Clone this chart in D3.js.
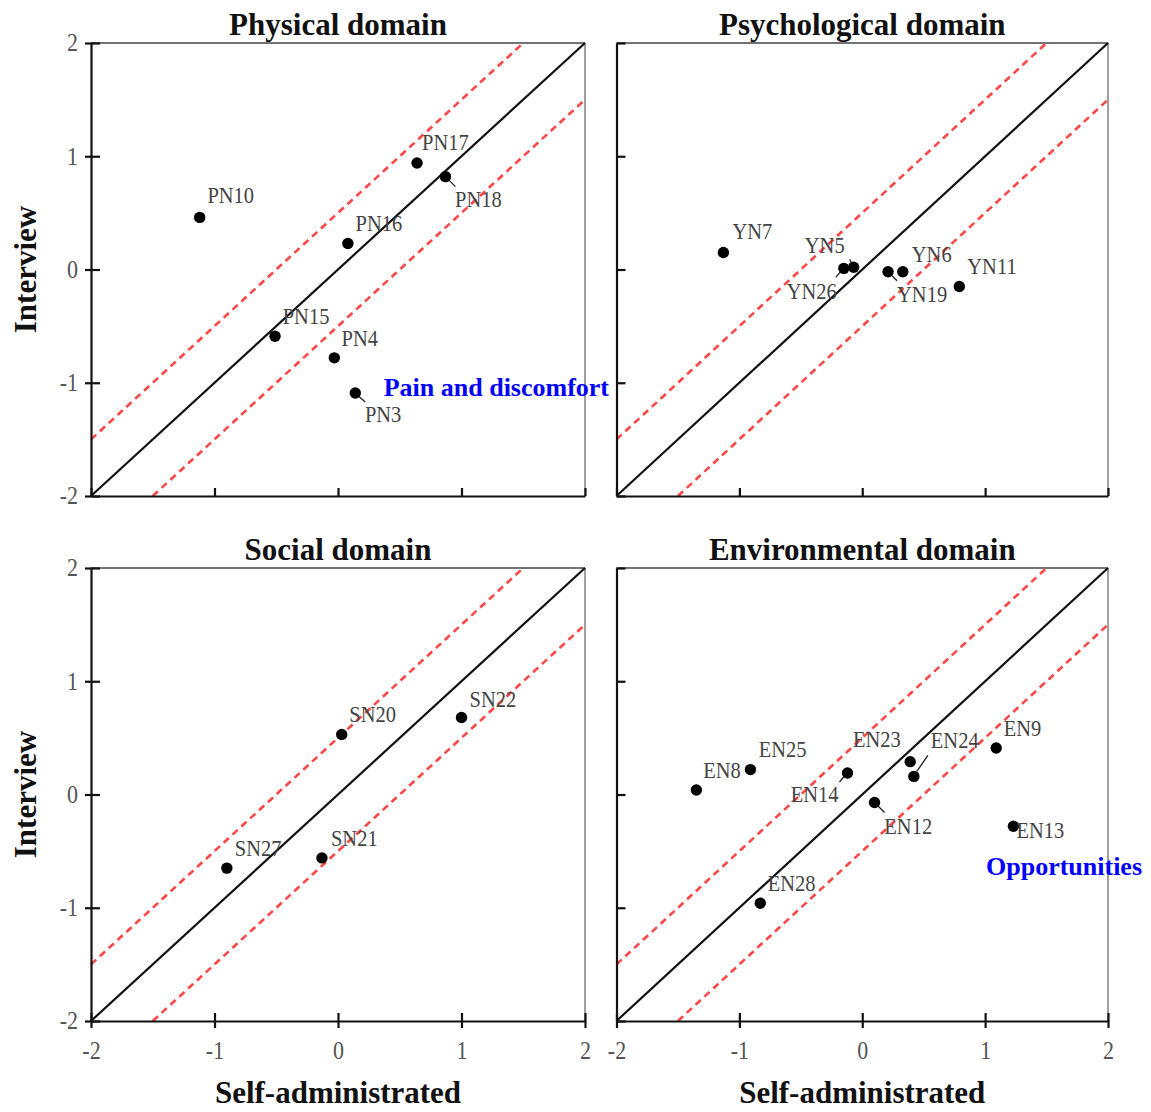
<!DOCTYPE html>
<html><head><meta charset="utf-8">
<script src="https://cdn.jsdelivr.net/npm/d3@7/dist/d3.min.js"></script>
<style>body{margin:0;background:#fff}</style>
</head><body>
<svg id="c" width="1151" height="1112"></svg>
<script>
// ---------------- DATA ----------------
const domainTitles = ["Physical domain", "Psychological domain", "Social domain", "Environmental domain"];

const physNames = ["PN10", "PN17", "PN18", "PN16", "PN15", "PN4", "PN3"];
const physSelf = [-1.12, 0.64, 0.87, 0.08, -0.51, -0.03, 0.14];
const physInterview = [0.46, 0.94, 0.82, 0.23, -0.59, -0.78, -1.09];

const psychNames = ["YN7", "YN5", "YN26", "YN19", "YN6", "YN11"];
const psychSelf = [-1.13, -0.07, -0.15, 0.21, 0.33, 0.79];
const psychInterview = [0.15, 0.02, 0.01, -0.02, -0.02, -0.15];

const socNames = ["SN20", "SN22", "SN27", "SN21"];
const socSelf = [0.03, 1.0, -0.9, -0.13];
const socInterview = [0.53, 0.68, -0.65, -0.56];

const envNames = ["EN8", "EN25", "EN14", "EN23", "EN24", "EN12", "EN9", "EN13", "EN28"];
const envSelf = [-1.35, -0.91, -0.12, 0.39, 0.42, 0.10, 1.09, 1.23, -0.83];
const envInterview = [0.04, 0.22, 0.19, 0.29, 0.16, -0.07, 0.41, -0.28, -0.96];

const tickValues = [-2, -1, 0, 1, 2];
const tickLabels = ["-2", "-1", "0", "1", "2"];
const axisRange = [-2, 2];
const agreementBand = 0.5;
const xAxisTitle = "Self-administrated";
const yAxisTitle = "Interview";
const annotationTexts = ["Pain and discomfort", "Opportunities"];

// ---------------- LAYOUT / STYLE ----------------
const FONT = "'Liberation Serif','Times New Roman',serif";
const panels = [
  {x0: 91, x1: 585, y0: 43, y1: 496, names: physNames, sx: physSelf, sy: physInterview, left: true, bottom: false},
  {x0: 616.5, x1: 1108, y0: 43, y1: 496, names: psychNames, sx: psychSelf, sy: psychInterview, left: false, bottom: false},
  {x0: 91, x1: 585, y0: 568, y1: 1021, names: socNames, sx: socSelf, sy: socInterview, left: true, bottom: true},
  {x0: 616.5, x1: 1108, y0: 568, y1: 1021, names: envNames, sx: envSelf, sy: envInterview, left: false, bottom: true}
];
// label offsets in pixels: [dx, dy(baseline), anchor, leader]
const labelLayout = {
  PN10: [7.7, -14], PN17: [5, -12.6], PN18: [9.6, 30, "start", [3, 3, 10, 10]], PN16: [7.7, -12.6],
  PN15: [7.7, -12.3], PN4: [7.3, -12], PN3: [9.6, 29, "start", [3, 3, 10, 9]],
  YN7: [9, -14], YN5: [-9, -14, "end", [-2, -4, -4, -8]], YN26: [-7, 31, "end", [-3, 3, -8, 9]],
  YN19: [9, 30, "start", [3, 3, 9, 9]], YN6: [9, -10], YN11: [8, -12],
  SN20: [7.6, -12.4], SN22: [8, -10.4], SN27: [8, -12], SN21: [9, -12],
  EN8: [6.8, -12], EN25: [8.3, -12.7], EN14: [-9, 29, "end", [-3, 3, -8, 9]], EN23: [-9.4, -15, "end"],
  EN24: [17, -28.7, "start", [3, -5, 14, -21]], EN12: [9.8, 31.7, "start", [3, 3, 10, 10]],
  EN9: [7.5, -12], EN13: [3, 11.7], EN28: [7.5, -12]
};
const annotationLayout = [{panel: 0, x: 0.37, y: -1.12}, {panel: 3, x: 1.007, y: -0.71}];
const STRETCH = 1.12; // glyphs in the reference are slightly taller than wide

const svg = d3.select("#c");

panels.forEach((p, i) => {
  const x = d3.scaleLinear().domain(axisRange).range([p.x0, p.x1]);
  const y = d3.scaleLinear().domain(axisRange).range([p.y1, p.y0]);
  p.xs = x; p.ys = y;
  const g = svg.append("g");

  // title
  g.append("text").attr("transform", `translate(${(p.x0 + p.x1) / 2},${p.y0 - 8}) scale(1,1.05)`)
    .attr("text-anchor", "middle").attr("font-family", FONT).attr("font-weight", "bold")
    .attr("font-size", 31).attr("fill", "#111").text(domainTitles[i]);

  // top and right frame
  g.append("line").attr("x1", p.x0).attr("x2", p.x1).attr("y1", p.y0).attr("y2", p.y0)
    .attr("stroke", "#444").attr("stroke-width", 1.6);
  g.append("line").attr("x1", p.x1).attr("x2", p.x1).attr("y1", p.y0).attr("y2", p.y1)
    .attr("stroke", "#888").attr("stroke-width", 1.6);

  // reference lines
  const line = d3.line().x(d => x(d[0])).y(d => y(d[1]));
  g.append("path").attr("d", line([[-2, -2], [2, 2]])).attr("stroke", "#111").attr("stroke-width", 2.2).attr("fill", "none");
  g.append("path").attr("d", line([[-2, -2 + agreementBand], [2 - agreementBand, 2]]))
    .attr("stroke", "#ff4545").attr("stroke-width", 2.6).attr("stroke-dasharray", "7,5").attr("fill", "none");
  g.append("path").attr("d", line([[-2 + agreementBand, -2], [2, 2 - agreementBand]]))
    .attr("stroke", "#ff4545").attr("stroke-width", 2.6).attr("stroke-dasharray", "7,5").attr("fill", "none");

  // y axis
  const ya = d3.axisLeft(y).tickValues(tickValues).tickSizeOuter(0).tickSizeInner(6).tickPadding(7)
    .tickFormat((d, k) => p.left ? tickLabels[k] : "");
  const yg = g.append("g").attr("transform", `translate(${p.x0},0)`).call(ya);
  yg.select(".domain").attr("stroke", "#111").attr("stroke-width", 2.2);
  yg.selectAll(".tick line").attr("stroke", "#111").attr("stroke-width", 2.2)
    .attr("x1", 9).attr("x2", p.left ? -6 : 0);
  yg.selectAll(".tick text").attr("font-family", FONT).attr("font-size", 22).attr("fill", "#555")
    .attr("transform", `scale(1,${STRETCH})`);

  // x axis
  const xa = d3.axisBottom(x).tickValues(tickValues).tickSizeOuter(0).tickSizeInner(7).tickPadding(11)
    .tickFormat((d, k) => p.bottom ? tickLabels[k] : "");
  const xg = g.append("g").attr("transform", `translate(0,${p.y1})`).call(xa);
  xg.select(".domain").attr("stroke", "#111").attr("stroke-width", 2.2);
  xg.selectAll(".tick line").attr("stroke", "#111").attr("stroke-width", 2.2)
    .attr("y1", -8).attr("y2", p.bottom ? 7 : 0);
  xg.selectAll(".tick text").attr("font-family", FONT).attr("font-size", 22).attr("fill", "#555")
    .attr("transform", `scale(1,${STRETCH})`);

  // axis titles
  if (p.left) {
    const yc = (p.y0 + p.y1) / 2;
    g.append("text").attr("transform", `translate(36,${yc}) rotate(-90)`).attr("text-anchor", "middle")
      .attr("font-family", FONT).attr("font-weight", "bold").attr("font-size", 31).attr("fill", "#111")
      .text(yAxisTitle);
  }
  if (p.bottom) {
    g.append("text").attr("transform", `translate(${(p.x0 + p.x1) / 2},1103) scale(1,1.05)`).attr("text-anchor", "middle")
      .attr("font-family", FONT).attr("font-weight", "bold").attr("font-size", 31).attr("fill", "#111")
      .text(xAxisTitle);
  }

  // points
  const pts = p.names.map((n, k) => ({name: n, sx: p.sx[k], sy: p.sy[k]}));
  // leaders
  pts.forEach(d => {
    const L = labelLayout[d.name];
    if (L && L[3]) {
      const cx = x(d.sx), cy = y(d.sy);
      g.append("line").attr("x1", cx + L[3][0]).attr("y1", cy + L[3][1])
        .attr("x2", cx + L[3][2]).attr("y2", cy + L[3][3]).attr("stroke", "#222").attr("stroke-width", 1.3);
    }
  });
  g.selectAll("circle.pt").data(pts).enter().append("circle").attr("class", "pt")
    .attr("cx", d => x(d.sx)).attr("cy", d => y(d.sy)).attr("r", 5.7).attr("fill", "#000");
  g.selectAll("text.lbl").data(pts).enter().append("text").attr("class", "lbl")
    .attr("transform", d => {
      const L = labelLayout[d.name] || [8, -12];
      return `translate(${x(d.sx) + L[0]},${y(d.sy) + L[1]}) scale(1,${STRETCH})`;
    })
    .attr("text-anchor", d => (labelLayout[d.name] || [])[2] || "start")
    .attr("font-family", FONT).attr("font-size", 20.5).attr("fill", "#444")
    .text(d => d.name);
});

// blue annotations
annotationLayout.forEach((a, k) => {
  const p = panels[a.panel];
  svg.append("text").attr("x", p.xs(a.x)).attr("y", p.ys(a.y))
    .attr("font-family", FONT).attr("font-weight", "bold").attr("font-size", 26).attr("fill", "#0000ff")
    .text(annotationTexts[k]);
});
</script>
</body></html>
